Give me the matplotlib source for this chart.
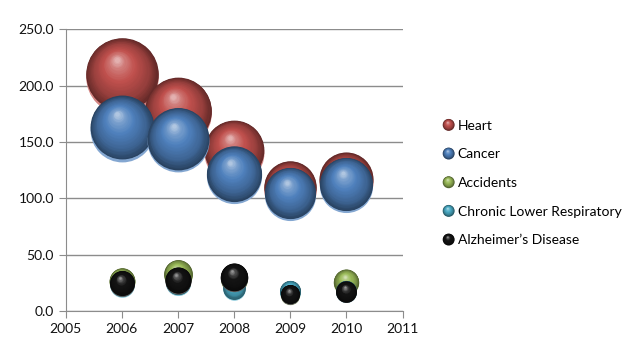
import numpy as np
import matplotlib
matplotlib.use("Agg")
import matplotlib.pyplot as plt
from matplotlib.transforms import ScaledTranslation
from matplotlib.lines import Line2D
from matplotlib.legend_handler import HandlerBase
from matplotlib.patches import Circle
import matplotlib.colors as mcolors

plt.rcParams['font.family'] = ['Lato', 'DejaVu Sans']

years = [2006, 2007, 2008, 2009, 2010]
series_names = ["Heart", "Cancer", "Accidents", "Chronic Lower Respiratory", "Alzheimer\u2019s Disease"]
heart = [209, 177, 142, 109, 116]
cancer = [162, 152, 121, 104, 112]
accidents = [26.5, 32.5, 28, 15, 25.5]
chronic = [24, 25, 20, 17.5, 17.5]
alzheimers = [24.5, 27, 30, 14.5, 17]
series_values = [heart, cancer, accidents, chronic, alzheimers]
colors = ["#C0504D", "#4F81BD", "#9BBB59", "#4BACC6", "#141414"]

DPI = 100
fig = plt.figure(figsize=(6.34, 3.54), dpi=DPI)
ax = fig.add_axes([0.1036, 0.1215, 0.5315, 0.7957])
ax.set_xlim(2005, 2011)
ax.set_ylim(0, 250)

max_r_pt = 37 * 72 / DPI
vmax = max(max(v) for v in series_values)
N = 28


def shade(base, t):
    base = np.array(mcolors.to_rgb(base))
    stops = [(0.0, base * 0.5), (0.25, base * 0.78), (0.6, base * 1.0),
             (0.85, base + (1 - base) * 0.25), (1.0, base + (1 - base) * 0.55)]
    for (t0, c0), (t1, c1) in zip(stops[:-1], stops[1:]):
        if t <= t1:
            f = (t - t0) / (t1 - t0)
            return tuple(np.clip(c0 + (c1 - c0) * f, 0, 1))
    return tuple(np.clip(stops[-1][1], 0, 1))


def rim(base):
    base = np.array(mcolors.to_rgb(base))
    return tuple(np.clip(base + (1 - base) * 0.3, 0, 1))


def draw_bubble(x, y, r_pt, base):
    # lighter bottom rim reflection
    tr = ax.transData + ScaledTranslation(0, -0.05 * r_pt / 72, fig.dpi_scale_trans)
    ax.plot([x], [y], marker='o', ms=2 * r_pt * 0.98, mew=0, color=rim(base),
            transform=tr, clip_on=False, zorder=3)
    hx, hy = -0.14 * r_pt, 0.4 * r_pt
    for k in range(N):
        t = k / (N - 1)
        r = r_pt * (1 - 0.93 * t)
        dx, dy = hx * t, hy * t + 0.03 * r_pt
        tr = ax.transData + ScaledTranslation(dx / 72, dy / 72, fig.dpi_scale_trans)
        ax.plot([x], [y], marker='o', ms=2 * r * (0.98 if k == 0 else 1), mew=0,
                color=shade(base, t), transform=tr, clip_on=False, zorder=3)


for vals, col in zip(series_values, colors):
    for x, v in zip(years, vals):
        r = max_r_pt * np.sqrt(v / vmax)
        draw_bubble(x, v, r, col)

ax.set_yticks(np.arange(0, 251, 50))
ax.set_yticklabels([f"{v:.1f}" for v in np.arange(0, 251, 50)])
ax.set_xticks(range(2005, 2012))
ax.grid(axis='y', color='#8c8c8c', lw=1.0)
ax.set_axisbelow(True)
for s in ['top', 'right']:
    ax.spines[s].set_visible(False)
for s in ['left', 'bottom']:
    ax.spines[s].set_color('#8c8c8c')
ax.tick_params(axis='both', colors='#8c8c8c', labelcolor='#111111', labelsize=10,
               length=5, direction='out')


class BallHandler(HandlerBase):
    def create_artists(self, legend, orig_handle, xdescent, ydescent, width, height, fontsize, trans):
        base = orig_handle.get_color()
        cx, cy = width - 4, height / 2 - ydescent
        R = 4.3
        arts = []
        for k in range(12):
            t = k / 11
            r = R * (1 - 0.9 * t)
            c = Circle((cx - 0.14 * R * t, cy + 0.38 * R * t), r, color=shade(base, t), lw=0)
            c.set_transform(trans)
            arts.append(c)
        return arts


handles = [Line2D([], [], color=c) for c in colors]
fig.legend(handles, series_names, loc='upper left', bbox_to_anchor=(0.677, 0.697),
           frameon=False, fontsize=10, handler_map={Line2D: BallHandler()},
           handlelength=0.9, handletextpad=0.25, labelspacing=1.2)

fig.savefig("out.png", dpi=DPI)
